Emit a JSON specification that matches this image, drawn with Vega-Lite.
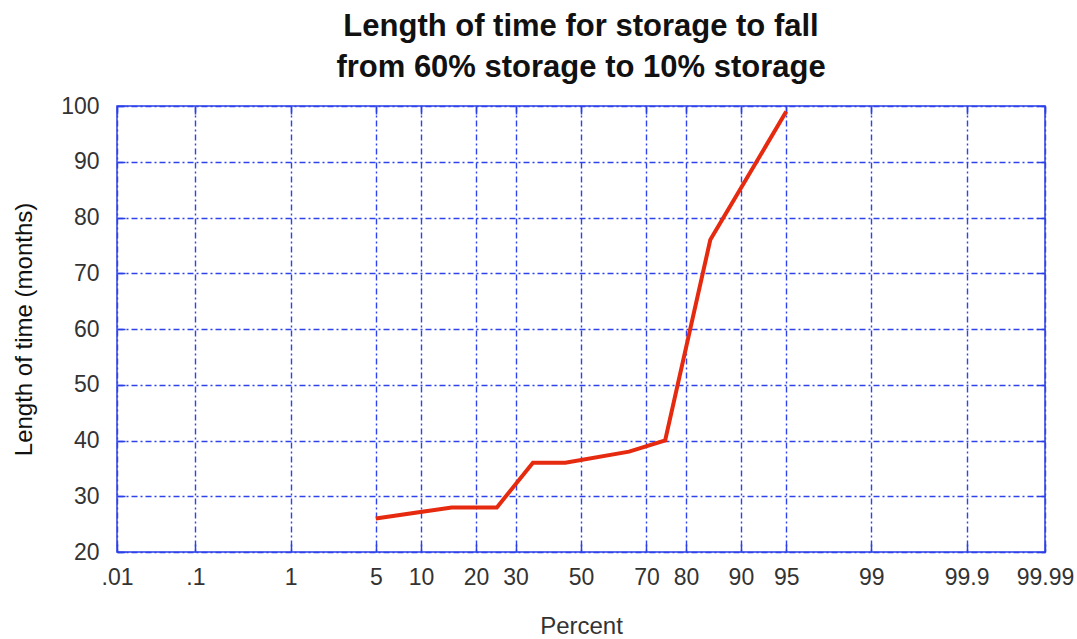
{
  "$schema": "https://vega.github.io/schema/vega-lite/v6.json",
  "width": 928,
  "height": 446,
  "autosize": "none",
  "padding": {"left": 117, "top": 106, "right": 32, "bottom": 86},
  "background": "white",
  "title": {
    "text": ["Length of time for storage to fall", "from 60% storage to 10% storage"],
    "font": "Liberation Sans",
    "fontSize": 31,
    "fontWeight": "bold",
    "color": "#111111",
    "lineHeight": 41,
    "offset": 11,
    "anchor": "middle"
  },
  "data": {
    "values": [
      {"percent": 5, "months": 26},
      {"percent": 15, "months": 28},
      {"percent": 20, "months": 28},
      {"percent": 25, "months": 28},
      {"percent": 35, "months": 36},
      {"percent": 45, "months": 36},
      {"percent": 65, "months": 38},
      {"percent": 75, "months": 40},
      {"percent": 85, "months": 76},
      {"percent": 95, "months": 99}
    ]
  },
  "transform": [{"calculate": "quantileNormal(datum.percent / 100)", "as": "z"}],
  "layer": [
    {
      "mark": {"type": "line", "color": "#e62a10", "strokeWidth": 4, "strokeJoin": "miter"},
      "encoding": {
        "x": {
          "field": "z",
          "type": "quantitative",
          "scale": {"domain": [-3.719, 3.719], "nice": false, "zero": false},
          "axis": {
            "orient": "bottom",
            "values": [-3.719, -3.0902, -2.3263, -1.6449, -1.2816, -0.8416, -0.5244, 0, 0.5244, 0.8416, 1.2816, 1.6449, 2.3263, 3.0902, 3.719],
            "labelExpr": "datum.value < -3.5 ? '.01' : datum.value < -3 ? '.1' : datum.value > 3.5 ? '99.99' : datum.value > 3 ? '99.9' : format(cumulativeNormal(datum.value) * 100, '.0f')",
            "domain": false,
            "ticks": true,
            "tickSize": -8,
            "tickColor": "#2b3fe8",
            "tickWidth": 1.5,
            "grid": true,
            "gridColor": "#2f43ec",
            "gridDash": [6, 3, 2, 3],
            "gridWidth": 1.4,
            "labelFont": "Liberation Sans",
            "labelFontSize": 23,
            "labelColor": "#333333",
            "labelPadding": 22,
            "labelFlush": false,
            "labelOverlap": false,
            "title": "Percent",
            "titleFont": "Liberation Sans",
            "titleFontSize": 24,
            "titleFontWeight": "normal",
            "titleColor": "#333333",
            "titlePadding": 25
          }
        },
        "y": {
          "field": "months",
          "type": "quantitative",
          "scale": {"domain": [20, 100], "nice": false, "zero": false},
          "axis": {
            "orient": "left",
            "values": [20, 30, 40, 50, 60, 70, 80, 90, 100],
            "domain": false,
            "ticks": true,
            "tickSize": -8,
            "tickColor": "#2b3fe8",
            "tickWidth": 1.5,
            "grid": true,
            "gridColor": "#2f43ec",
            "gridDash": [6, 3, 2, 3],
            "gridWidth": 1.4,
            "labelFont": "Liberation Sans",
            "labelFontSize": 23,
            "labelColor": "#333333",
            "labelPadding": 26,
            "labelFlush": false,
            "labelOverlap": false,
            "title": "Length of time (months)",
            "titleFont": "Liberation Sans",
            "titleFontSize": 24,
            "titleFontWeight": "normal",
            "titleColor": "#111111",
            "titlePadding": 24
          }
        }
      }
    },
    {
      "mark": {"type": "line", "opacity": 0},
      "encoding": {
        "x": {
          "field": "z",
          "type": "quantitative",
          "axis": {
            "orient": "top",
            "values": [-3.719, -3.0902, -2.3263, -1.6449, -1.2816, -0.8416, -0.5244, 0, 0.5244, 0.8416, 1.2816, 1.6449, 2.3263, 3.0902, 3.719],
            "domain": false,
            "labels": false,
            "grid": false,
            "tickSize": -8,
            "tickColor": "#2b3fe8",
            "tickWidth": 1.5,
            "title": null
          }
        },
        "y": {
          "field": "months",
          "type": "quantitative",
          "axis": {
            "orient": "right",
            "values": [20, 30, 40, 50, 60, 70, 80, 90, 100],
            "domain": false,
            "labels": false,
            "grid": false,
            "tickSize": -8,
            "tickColor": "#2b3fe8",
            "tickWidth": 1.5,
            "title": null
          }
        }
      }
    }
  ],
  "resolve": {"axis": {"x": "independent", "y": "independent"}},
  "config": {"view": {"stroke": "#2b3fe8", "strokeWidth": 1.5}}
}
